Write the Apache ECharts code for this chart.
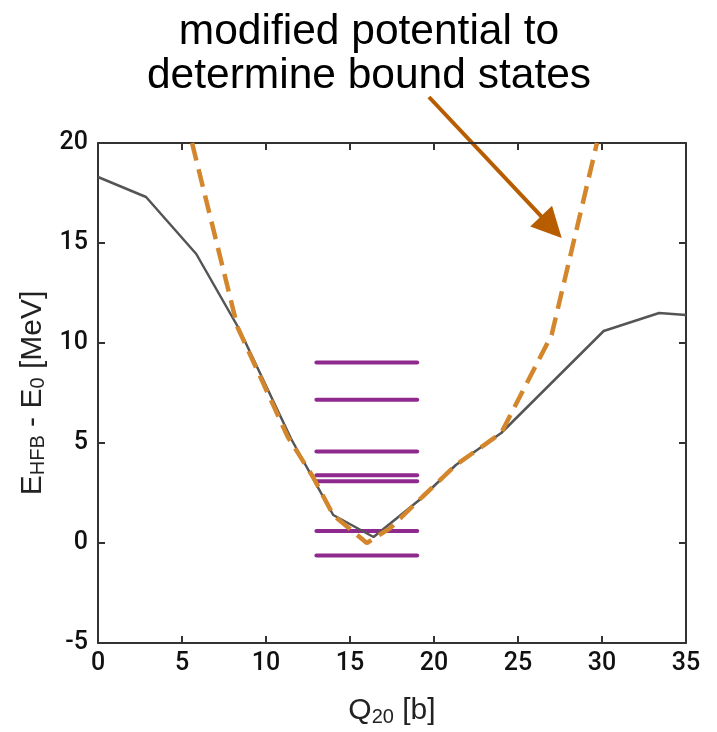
<!DOCTYPE html>
<html>
<head>
<meta charset="utf-8">
<script src="https://cdn.jsdelivr.net/npm/echarts@6/dist/echarts.min.js"></script>
<style>html,body{margin:0;padding:0;background:#fff}#c{width:717px;height:732px}</style>
</head>
<body>
<div id="c"></div>
<script>
// HFB energy curve (Q20 [b], E [MeV])
const hfbQ = [0, 2.86, 5.85, 8.4, 11.5, 14.0, 16.4, 19.2, 21.3, 24.0, 30.1, 33.4, 35];
const hfbE = [18.3, 17.3, 14.45, 10.7, 5.2, 1.4, 0.3, 2.2, 3.9, 5.5, 10.6, 11.5, 11.4];
// modified potential
const modQ = [5.6, 8.3, 11.3, 12.8, 14.0, 16.0, 17.4, 19.3, 21.3, 24.0, 27.0, 29.7];
const modE = [20, 10.8, 5.3, 3.3, 1.4, 0.0, 0.75, 2.3, 3.9, 5.5, 10.4, 20];
// bound state levels
const levelQ = [13, 19];
const levels = [9.03, 7.16, 4.57, 3.39, 3.09, 0.6, -0.63];
const xTicks = [0, 5, 10, 15, 20, 25, 30, 35];
const yTicks = [-5, 0, 5, 10, 15, 20];
const annotation = ['modified potential to', 'determine bound states'];
const arrowFrom = [19.7, 22.3];
const arrowTo = [27.6, 15.25];

const chart = echarts.init(document.getElementById('c'));
const axisColor = '#333';
const FONT = 'Liberation Sans';
const labelFont = {fontFamily: 'Roboto', fontSize: 25, fontWeight: 500, color: '#111'};

const series = [
  {type: 'line', data: hfbQ.map((q, i) => [q, hfbE[i]]), symbol: 'none', clip: true,
   lineStyle: {color: '#555', width: 2.5}, z: 3},
  {type: 'line', data: modQ.map((q, i) => [q, modE[i]]), symbol: 'none', clip: true,
   lineStyle: {color: '#d4862c', width: 4.5, type: [18, 9]}, z: 4}
];
levels.forEach(v => {
  series.push({type: 'line', data: levelQ.map(q => [q, v]), symbol: 'none',
    lineStyle: {color: '#8e2a8e', width: 4, cap: 'round'}, z: 2});
});

chart.setOption({
  animation: false,
  backgroundColor: '#fff',
  grid: {left: 98, right: 31, top: 143, bottom: 87, show: false},
  xAxis: [
    {type: 'value', min: 0, max: 35, interval: 5, position: 'bottom',
     name: '{m|Q}{s|20}{m| [b]}', nameLocation: 'middle', nameGap: 52,
     nameTextStyle: {rich: {m: {fontFamily: FONT, fontSize: 30, color: '#222'},
                            s: {fontFamily: FONT, fontSize: 20, color: '#222', padding: [12, 0, 0, 0]}}},
     axisLine: {show: true, onZero: false, lineStyle: {color: axisColor, width: 2}},
     axisTick: {show: true, inside: true, length: 7, lineStyle: {color: axisColor, width: 2}},
     axisLabel: Object.assign({margin: 8, formatter: v => xTicks.includes(v) ? String(v) : ''}, labelFont),
     splitLine: {show: false}},
    {type: 'value', min: 0, max: 35, interval: 5, position: 'top',
     axisLine: {show: true, onZero: false, lineStyle: {color: axisColor, width: 2}},
     axisTick: {show: true, inside: true, length: 7, lineStyle: {color: axisColor, width: 2}},
     axisLabel: {show: false}, splitLine: {show: false}}
  ],
  yAxis: [
    {type: 'value', min: -5, max: 20, interval: 5, position: 'left',
     name: '{m|E}{s|HFB}{m| - E}{s|0}{m| [MeV]}', nameLocation: 'middle', nameGap: 47, nameRotate: 90,
     nameTextStyle: {rich: {m: {fontFamily: FONT, fontSize: 30, color: '#222'},
                            s: {fontFamily: FONT, fontSize: 20, color: '#222', padding: [12, 0, 0, 0]}}},
     axisLine: {show: true, onZero: false, lineStyle: {color: axisColor, width: 2}},
     axisTick: {show: true, inside: true, length: 7, lineStyle: {color: axisColor, width: 2}},
     axisLabel: Object.assign({margin: 10, formatter: v => yTicks.includes(v) ? String(v) : ''}, labelFont),
     splitLine: {show: false}},
    {type: 'value', min: -5, max: 20, interval: 5, position: 'right',
     axisLine: {show: true, onZero: false, lineStyle: {color: axisColor, width: 2}},
     axisTick: {show: true, inside: true, length: 7, lineStyle: {color: axisColor, width: 2}},
     axisLabel: {show: false}, splitLine: {show: false}}
  ],
  series: series
});

// annotation text and arrow (positioned via data coordinates)
const p0 = chart.convertToPixel({xAxisIndex: 0, yAxisIndex: 0}, arrowFrom);
const p1 = chart.convertToPixel({xAxisIndex: 0, yAxisIndex: 0}, arrowTo);
const dx = p1[0] - p0[0], dy = p1[1] - p0[1];
const len = Math.sqrt(dx * dx + dy * dy);
const ux = dx / len, uy = dy / len;
const headL = 30, headW = 15;
const bx = p1[0] - ux * headL, by = p1[1] - uy * headL;
const arrowColor = '#b85c00';
chart.setOption({
  graphic: [
    {type: 'text', x: 369, y: 10, style: {text: annotation.join('\n'), fontFamily: FONT,
      fontSize: 42.5, lineHeight: 44, fill: '#000', align: 'center', verticalAlign: 'top'}},
    {type: 'line', shape: {x1: p0[0], y1: p0[1], x2: bx + ux * 2, y2: by + uy * 2},
     style: {stroke: arrowColor, lineWidth: 4}},
    {type: 'polygon', shape: {points: [[p1[0], p1[1]], [bx - uy * headW, by + ux * headW], [bx + uy * headW, by - ux * headW]]},
     style: {fill: arrowColor}}
  ]
});
</script>
</body>
</html>
